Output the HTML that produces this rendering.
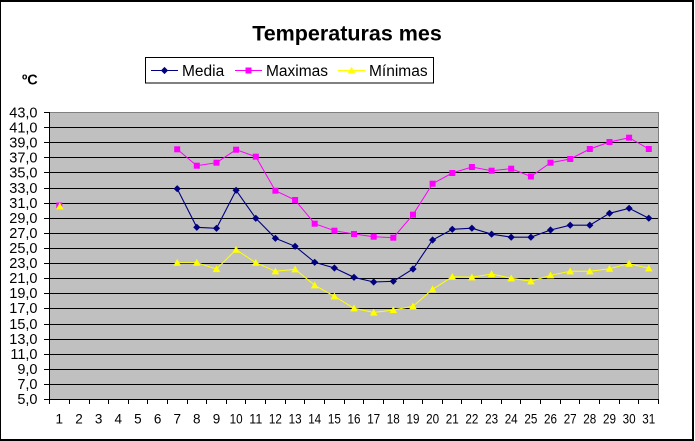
<!DOCTYPE html>
<html>
<head>
<meta charset="utf-8">
<style>
  html,body{margin:0;padding:0;background:#fff;}
  svg{display:block;}
  text{font-family:"Liberation Sans",Arial,sans-serif;}
</style>
</head>
<body>
<svg width="695" height="441" viewBox="0 0 695 441" xmlns="http://www.w3.org/2000/svg">
  <defs>
    <path id="dia" d="M0,-3.6 L3.6,0 L0,3.6 L-3.6,0 Z" fill="#000080"/>
    <rect id="sq" x="-3" y="-3" width="6" height="6" fill="#FF00FF"/>
    <path id="tri" d="M0,-3.8 L3.8,3.1 L-3.8,3.1 Z" fill="#FFFF00"/>
  </defs>
  <!-- outer frame -->
  <rect x="0" y="0" width="694" height="441" fill="#000"/>
  <rect x="1" y="2" width="691" height="437" fill="#fff"/>

  <!-- title -->
  <text x="347" y="40.5" font-size="21.5" font-weight="bold" text-anchor="middle" fill="#000">Temperaturas mes</text>
  <text x="22" y="84.5" font-size="14.5" font-weight="bold" fill="#000">ºC</text>

  <!-- legend -->
  <rect x="145.5" y="57.5" width="288" height="25.5" fill="#fff" stroke="#000" stroke-width="1"/>
  <line x1="151" y1="70.5" x2="178" y2="70.5" stroke="#000080" stroke-width="1"/>
  <use href="#dia" x="164.5" y="70.5"/>
  <text x="182" y="76" font-size="15.5" fill="#000">Media</text>
  <line x1="235" y1="70.5" x2="262" y2="70.5" stroke="#FF00FF" stroke-width="1"/>
  <use href="#sq" x="248.5" y="70.5"/>
  <text x="266" y="76" font-size="15.5" fill="#000">Maximas</text>
  <line x1="338" y1="70.5" x2="365" y2="70.5" stroke="#FFFF00" stroke-width="1"/>
  <use href="#tri" x="351.5" y="70.5"/>
  <text x="369" y="76" font-size="15.5" fill="#000">Mínimas</text>

  <!-- plot area -->
  <rect x="50" y="112" width="608" height="287" fill="#C0C0C0"/>
  <g stroke="#000" stroke-width="1" shape-rendering="crispEdges">
    <line x1="44" y1="127.5" x2="658" y2="127.5"/>
    <line x1="44" y1="142.5" x2="658" y2="142.5"/>
    <line x1="44" y1="157.5" x2="658" y2="157.5"/>
    <line x1="44" y1="172.5" x2="658" y2="172.5"/>
    <line x1="44" y1="188.5" x2="658" y2="188.5"/>
    <line x1="44" y1="203.5" x2="658" y2="203.5"/>
    <line x1="44" y1="218.5" x2="658" y2="218.5"/>
    <line x1="44" y1="233.5" x2="658" y2="233.5"/>
    <line x1="44" y1="248.5" x2="658" y2="248.5"/>
    <line x1="44" y1="263.5" x2="658" y2="263.5"/>
    <line x1="44" y1="278.5" x2="658" y2="278.5"/>
    <line x1="44" y1="293.5" x2="658" y2="293.5"/>
    <line x1="44" y1="308.5" x2="658" y2="308.5"/>
    <line x1="44" y1="324.5" x2="658" y2="324.5"/>
    <line x1="44" y1="339.5" x2="658" y2="339.5"/>
    <line x1="44" y1="354.5" x2="658" y2="354.5"/>
    <line x1="44" y1="369.5" x2="658" y2="369.5"/>
    <line x1="44" y1="384.5" x2="658" y2="384.5"/>
    <line x1="44" y1="399.5" x2="659" y2="399.5"/>
    <line x1="44" y1="112.5" x2="49" y2="112.5"/>
  </g>
  <g stroke="#808080" stroke-width="1" shape-rendering="crispEdges">
    <line x1="49.5" y1="112.5" x2="658.5" y2="112.5"/>
    <line x1="658.5" y1="112" x2="658.5" y2="399"/>
  </g>
  <g stroke="#000" stroke-width="1" shape-rendering="crispEdges">
    <line x1="49.5" y1="112" x2="49.5" y2="404"/>
    <line x1="69.5" y1="399" x2="69.5" y2="404"/>
    <line x1="89.5" y1="399" x2="89.5" y2="404"/>
    <line x1="108.5" y1="399" x2="108.5" y2="404"/>
    <line x1="128.5" y1="399" x2="128.5" y2="404"/>
    <line x1="147.5" y1="399" x2="147.5" y2="404"/>
    <line x1="167.5" y1="399" x2="167.5" y2="404"/>
    <line x1="187.5" y1="399" x2="187.5" y2="404"/>
    <line x1="206.5" y1="399" x2="206.5" y2="404"/>
    <line x1="226.5" y1="399" x2="226.5" y2="404"/>
    <line x1="245.5" y1="399" x2="245.5" y2="404"/>
    <line x1="265.5" y1="399" x2="265.5" y2="404"/>
    <line x1="285.5" y1="399" x2="285.5" y2="404"/>
    <line x1="304.5" y1="399" x2="304.5" y2="404"/>
    <line x1="324.5" y1="399" x2="324.5" y2="404"/>
    <line x1="344.5" y1="399" x2="344.5" y2="404"/>
    <line x1="363.5" y1="399" x2="363.5" y2="404"/>
    <line x1="383.5" y1="399" x2="383.5" y2="404"/>
    <line x1="403.5" y1="399" x2="403.5" y2="404"/>
    <line x1="422.5" y1="399" x2="422.5" y2="404"/>
    <line x1="442.5" y1="399" x2="442.5" y2="404"/>
    <line x1="461.5" y1="399" x2="461.5" y2="404"/>
    <line x1="481.5" y1="399" x2="481.5" y2="404"/>
    <line x1="501.5" y1="399" x2="501.5" y2="404"/>
    <line x1="520.5" y1="399" x2="520.5" y2="404"/>
    <line x1="540.5" y1="399" x2="540.5" y2="404"/>
    <line x1="560.5" y1="399" x2="560.5" y2="404"/>
    <line x1="579.5" y1="399" x2="579.5" y2="404"/>
    <line x1="599.5" y1="399" x2="599.5" y2="404"/>
    <line x1="619.5" y1="399" x2="619.5" y2="404"/>
    <line x1="638.5" y1="399" x2="638.5" y2="404"/>
    <line x1="658.5" y1="399" x2="658.5" y2="404"/>
  </g>

  <!-- y labels -->
  <g font-size="14.5" fill="#000" text-anchor="end">
    <text x="37.5" y="117.5">43,0</text>
    <text x="37.5" y="132.5">41,0</text>
    <text x="37.5" y="147.5">39,0</text>
    <text x="37.5" y="162.5">37,0</text>
    <text x="37.5" y="177.5">35,0</text>
    <text x="37.5" y="193">33,0</text>
    <text x="37.5" y="208">31,0</text>
    <text x="37.5" y="223">29,0</text>
    <text x="37.5" y="238">27,0</text>
    <text x="37.5" y="253">25,0</text>
    <text x="37.5" y="268">23,0</text>
    <text x="37.5" y="283">21,0</text>
    <text x="37.5" y="298">19,0</text>
    <text x="37.5" y="313">17,0</text>
    <text x="37.5" y="329">15,0</text>
    <text x="37.5" y="344">13,0</text>
    <text x="37.5" y="359">11,0</text>
    <text x="37.5" y="374">9,0</text>
    <text x="37.5" y="389">7,0</text>
    <text x="37.5" y="404">5,0</text>
  </g>

  <!-- x labels -->
  <g font-size="13.5" fill="#000" text-anchor="middle">
    <text x="59.3" y="423.5">1</text>
    <text x="79" y="423.5">2</text>
    <text x="98.6" y="423.5">3</text>
    <text x="118.3" y="423.5">4</text>
    <text x="137.9" y="423.5">5</text>
    <text x="157.6" y="423.5">6</text>
    <text x="177.2" y="423.5">7</text>
    <text x="196.8" y="423.5">8</text>
    <text x="216.5" y="423.5">9</text>
    <text x="236.1" y="423.5" textLength="13" lengthAdjust="spacingAndGlyphs">10</text>
    <text x="255.8" y="423.5" textLength="13" lengthAdjust="spacingAndGlyphs">11</text>
    <text x="275.4" y="423.5" textLength="13" lengthAdjust="spacingAndGlyphs">12</text>
    <text x="295.1" y="423.5" textLength="13" lengthAdjust="spacingAndGlyphs">13</text>
    <text x="314.7" y="423.5" textLength="13" lengthAdjust="spacingAndGlyphs">14</text>
    <text x="334.4" y="423.5" textLength="13" lengthAdjust="spacingAndGlyphs">15</text>
    <text x="354" y="423.5" textLength="13" lengthAdjust="spacingAndGlyphs">16</text>
    <text x="373.7" y="423.5" textLength="13" lengthAdjust="spacingAndGlyphs">17</text>
    <text x="393.3" y="423.5" textLength="13" lengthAdjust="spacingAndGlyphs">18</text>
    <text x="413" y="423.5" textLength="13" lengthAdjust="spacingAndGlyphs">19</text>
    <text x="432.6" y="423.5" textLength="13" lengthAdjust="spacingAndGlyphs">20</text>
    <text x="452.3" y="423.5" textLength="13" lengthAdjust="spacingAndGlyphs">21</text>
    <text x="471.9" y="423.5" textLength="13" lengthAdjust="spacingAndGlyphs">22</text>
    <text x="491.6" y="423.5" textLength="13" lengthAdjust="spacingAndGlyphs">23</text>
    <text x="511.2" y="423.5" textLength="13" lengthAdjust="spacingAndGlyphs">24</text>
    <text x="530.9" y="423.5" textLength="13" lengthAdjust="spacingAndGlyphs">25</text>
    <text x="550.5" y="423.5" textLength="13" lengthAdjust="spacingAndGlyphs">26</text>
    <text x="570.2" y="423.5" textLength="13" lengthAdjust="spacingAndGlyphs">27</text>
    <text x="589.8" y="423.5" textLength="13" lengthAdjust="spacingAndGlyphs">28</text>
    <text x="609.5" y="423.5" textLength="13" lengthAdjust="spacingAndGlyphs">29</text>
    <text x="629.1" y="423.5" textLength="13" lengthAdjust="spacingAndGlyphs">30</text>
    <text x="648.8" y="423.5" textLength="13" lengthAdjust="spacingAndGlyphs">31</text>
  </g>

  <!-- Media -->
  <polyline fill="none" stroke="#000080" stroke-width="1.1" points="177.2,188.7 196.8,227.3 216.5,228.3 236.1,190.3 255.8,218.3 275.4,238.3 295.1,246.3 314.7,262.3 334.4,268 354,277.3 373.7,282 393.3,281.3 413,269 432.6,240 452.3,229.3 471.9,228.2 491.6,234.2 511.2,237.2 530.9,237.2 550.5,230 570.2,225.2 589.8,225.2 609.5,213.3 629.1,208.3 648.8,218.2"/>
  <g>
    <use href="#dia" x="177.2" y="188.7"/><use href="#dia" x="196.8" y="227.3"/><use href="#dia" x="216.5" y="228.3"/><use href="#dia" x="236.1" y="190.3"/><use href="#dia" x="255.8" y="218.3"/><use href="#dia" x="275.4" y="238.3"/><use href="#dia" x="295.1" y="246.3"/><use href="#dia" x="314.7" y="262.3"/><use href="#dia" x="334.4" y="268"/><use href="#dia" x="354" y="277.3"/><use href="#dia" x="373.7" y="282"/><use href="#dia" x="393.3" y="281.3"/><use href="#dia" x="413" y="269"/><use href="#dia" x="432.6" y="240"/><use href="#dia" x="452.3" y="229.3"/><use href="#dia" x="471.9" y="228.2"/><use href="#dia" x="491.6" y="234.2"/><use href="#dia" x="511.2" y="237.2"/><use href="#dia" x="530.9" y="237.2"/><use href="#dia" x="550.5" y="230"/><use href="#dia" x="570.2" y="225.2"/><use href="#dia" x="589.8" y="225.2"/><use href="#dia" x="609.5" y="213.3"/><use href="#dia" x="629.1" y="208.3"/><use href="#dia" x="648.8" y="218.2"/>
  </g>

  <!-- Maximas -->
  <polyline fill="none" stroke="#FF00FF" stroke-width="1" points="177.2,149.3 196.8,165.7 216.5,162.7 236.1,149.7 255.8,156.7 275.4,190.7 295.1,200 314.7,223.7 334.4,230.7 354,234 373.7,236.7 393.3,237.7 413,214.7 432.6,183.7 452.3,173 471.9,167 491.6,170.7 511.2,168.7 530.9,176.5 550.5,162.7 570.2,159 589.8,149 609.5,142 629.1,137.7 648.8,149"/>
  <g>
    <use href="#sq" x="59.3" y="205.5"/>
    <use href="#sq" x="177.2" y="149.3"/><use href="#sq" x="196.8" y="165.7"/><use href="#sq" x="216.5" y="162.7"/><use href="#sq" x="236.1" y="149.7"/><use href="#sq" x="255.8" y="156.7"/><use href="#sq" x="275.4" y="190.7"/><use href="#sq" x="295.1" y="200"/><use href="#sq" x="314.7" y="223.7"/><use href="#sq" x="334.4" y="230.7"/><use href="#sq" x="354" y="234"/><use href="#sq" x="373.7" y="236.7"/><use href="#sq" x="393.3" y="237.7"/><use href="#sq" x="413" y="214.7"/><use href="#sq" x="432.6" y="183.7"/><use href="#sq" x="452.3" y="173"/><use href="#sq" x="471.9" y="167"/><use href="#sq" x="491.6" y="170.7"/><use href="#sq" x="511.2" y="168.7"/><use href="#sq" x="530.9" y="176.5"/><use href="#sq" x="550.5" y="162.7"/><use href="#sq" x="570.2" y="159"/><use href="#sq" x="589.8" y="149"/><use href="#sq" x="609.5" y="142"/><use href="#sq" x="629.1" y="137.7"/><use href="#sq" x="648.8" y="149"/>
  </g>

  <!-- Minimas -->
  <polyline fill="none" stroke="#FFFF00" stroke-width="1" points="177.2,262.7 196.8,262.7 216.5,269 236.1,249.7 255.8,262.7 275.4,271.3 295.1,269.3 314.7,285.3 334.4,296.3 354,308.3 373.7,312.5 393.3,310 413,306.3 432.6,289.3 452.3,276.7 471.9,277.3 491.6,274 511.2,278.3 530.9,281.3 550.5,275.3 570.2,271.3 589.8,271.3 609.5,268.7 629.1,263.7 648.8,268.3"/>
  <g>
    <use href="#tri" x="59.8" y="206.3"/>
    <use href="#tri" x="177.2" y="262.7"/><use href="#tri" x="196.8" y="262.7"/><use href="#tri" x="216.5" y="269"/><use href="#tri" x="236.1" y="249.7"/><use href="#tri" x="255.8" y="262.7"/><use href="#tri" x="275.4" y="271.3"/><use href="#tri" x="295.1" y="269.3"/><use href="#tri" x="314.7" y="285.3"/><use href="#tri" x="334.4" y="296.3"/><use href="#tri" x="354" y="308.3"/><use href="#tri" x="373.7" y="312.5"/><use href="#tri" x="393.3" y="310"/><use href="#tri" x="413" y="306.3"/><use href="#tri" x="432.6" y="289.3"/><use href="#tri" x="452.3" y="276.7"/><use href="#tri" x="471.9" y="277.3"/><use href="#tri" x="491.6" y="274"/><use href="#tri" x="511.2" y="278.3"/><use href="#tri" x="530.9" y="281.3"/><use href="#tri" x="550.5" y="275.3"/><use href="#tri" x="570.2" y="271.3"/><use href="#tri" x="589.8" y="271.3"/><use href="#tri" x="609.5" y="268.7"/><use href="#tri" x="629.1" y="263.7"/><use href="#tri" x="648.8" y="268.3"/>
  </g>
</svg>
</body>
</html>
